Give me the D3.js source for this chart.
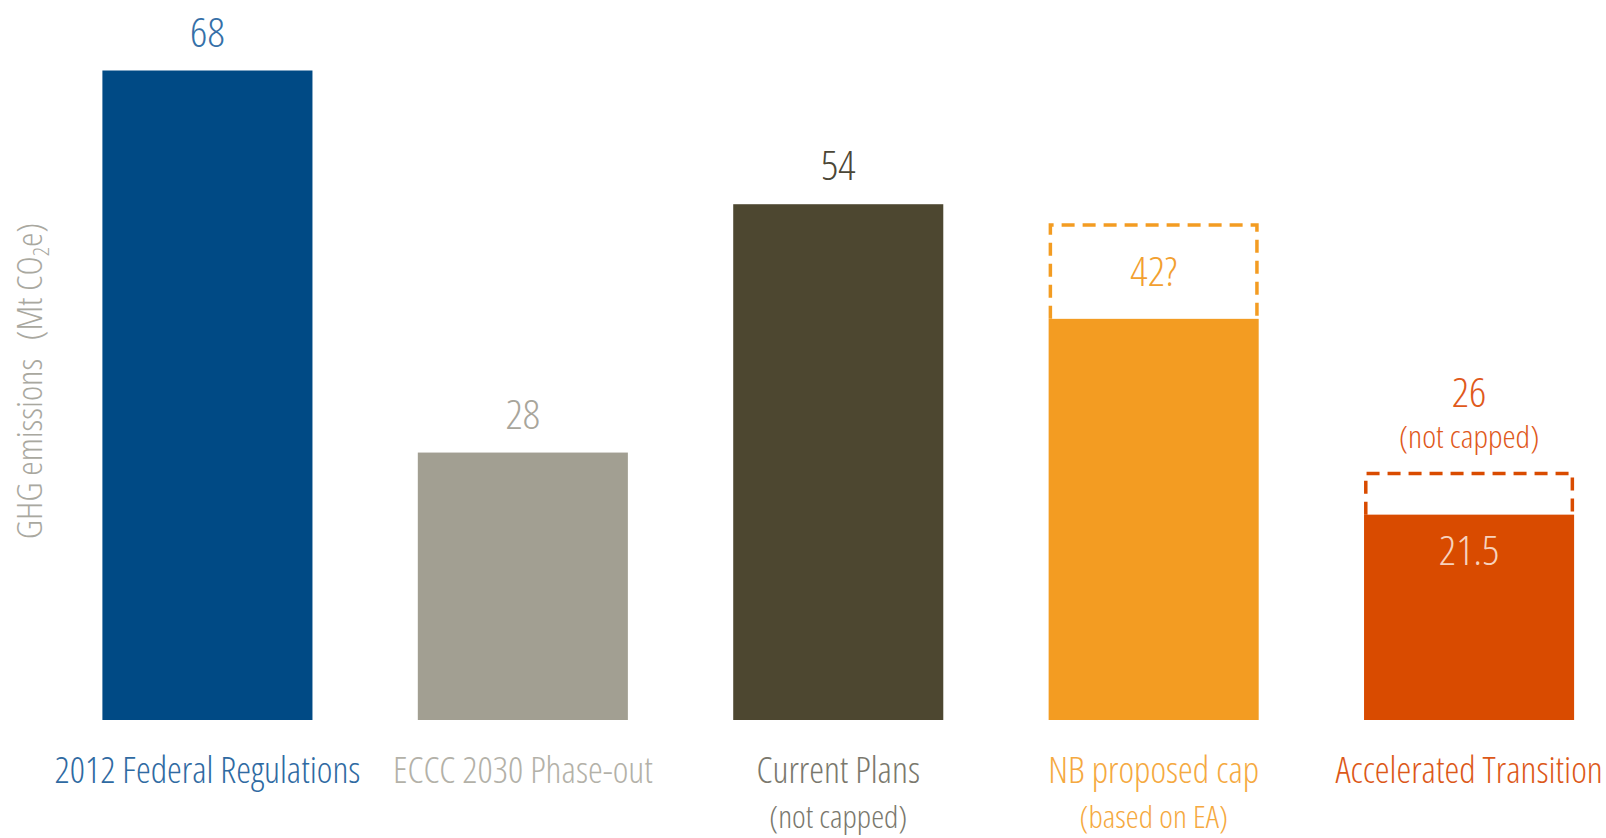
<!DOCTYPE html>
<html>
<head>
<meta charset="utf-8">
<script src="https://cdn.jsdelivr.net/npm/d3@7/dist/d3.min.js"></script>
<style>
  html, body { margin: 0; padding: 0; background: #ffffff; }
  svg { display: block; }
  text { font-family: "Open Sans", "Noto Sans", sans-serif; font-weight: 300; font-stretch: condensed; }
</style>
</head>
<body>
<svg id="chart" width="1606" height="838"></svg>
<script>
// Projected 2030 GHG emissions by scenario (Mt CO2e)
const categories = [
  "2012 Federal Regulations",
  "ECCC 2030 Phase-out",
  "Current Plans",
  "NB proposed cap",
  "Accelerated Transition"
];
const subLabels = ["", "", "(not capped)", "(based on EA)", ""];
const values = [68, 28, 54, 42, 21.5];
// upper end of an uncertain range drawn as a dashed outline
const upperValues = [null, null, null, 52, 26];
const valueLabels = ["68", "28", "54", "42?", "21.5"];
const upperLabels = [null, null, null, null, "26"];
const upperNotes = [null, null, null, null, "(not capped)"];

const barColors   = ["#004a85", "#a29f92", "#4d4730", "#f39c22", "#d94b00"];
const valueColors = ["#3570a8", "#a8a59b", "#4b4636", "#f2a030", "#f7d2bd"];
const catColors   = ["#2f6aa2", "#b3b1a8", "#7a786d", "#f5a940", "#dc5818"];
const upperColors = ["#3570a8", "#a8a59b", "#4b4636", "#f2a030", "#e0591b"];

const svg = d3.select("#chart");

const x = d3.scaleBand()
  .domain(categories)
  .range([102.4, 1574.1])
  .paddingInner(0.334)
  .paddingOuter(0);

const y = d3.scaleLinear()
  .domain([0, 68])
  .range([720, 70.5]);

// Horizontal scale so the sans face reads as a condensed cut of the right width
const probe = svg.append("text")
  .attr("font-size", 36)
  .text("2012 Federal Regulations");
const probeLen = probe.node().getComputedTextLength();
probe.remove();
const sx = Math.max(0.6, Math.min(1.1, 306 / probeLen));

function label(g, cx, cy, txt, size, color) {
  return g.append("text")
    .attr("transform", `translate(${cx},${cy}) scale(${sx},1)`)
    .attr("text-anchor", "middle")
    .attr("font-size", size)
    .attr("fill", color)
    .text(txt);
}

const g = svg.append("g");

// solid bars
g.selectAll("rect.bar")
  .data(values)
  .join("rect")
  .attr("class", "bar")
  .attr("x", (d, i) => x(categories[i]))
  .attr("width", x.bandwidth())
  .attr("y", d => y(d))
  .attr("height", d => y(0) - y(d))
  .attr("fill", (d, i) => barColors[i]);

// dashed outline for uncertain upper ranges (open at the bottom)
upperValues.forEach((u, i) => {
  if (u == null) return;
  const sw = 3.5;
  const x0 = x(categories[i]) + sw / 2;
  const x1 = x(categories[i]) + x.bandwidth() - sw / 2;
  const yTop = y(u) + sw / 2;
  const yBot = y(values[i]);
  g.append("path")
    .attr("d", `M${x0},${yBot} L${x0},${yTop} L${x1},${yTop} L${x1},${yBot}`)
    .attr("fill", "none")
    .attr("stroke", barColors[i])
    .attr("stroke-width", sw)
    .attr("stroke-dasharray", "13,8");
});

// value labels
values.forEach((v, i) => {
  const cx = x(categories[i]) + x.bandwidth() / 2;
  const u = upperValues[i];
  if (u == null) {
    label(g, cx, y(v) - 24, valueLabels[i], 41, valueColors[i]);
  } else if (upperLabels[i] == null) {
    // label sits in the middle of the dashed range
    label(g, cx, (y(u) + y(v)) / 2 + 15, valueLabels[i], 41, valueColors[i]);
  } else {
    label(g, cx, y(v) + 50, valueLabels[i], 41, valueColors[i]);
    label(g, cx, y(u) - 65, upperLabels[i], 41, upperColors[i]);
    label(g, cx, y(u) - 24, upperNotes[i], 32, upperColors[i]);
  }
});

// category labels
categories.forEach((c, i) => {
  const cx = x(c) + x.bandwidth() / 2;
  label(g, cx, 783, c, 36, catColors[i]);
  if (subLabels[i]) label(g, cx, 828, subLabels[i], 31.5, catColors[i]);
});

// y-axis title
const yt = svg.append("text")
  .attr("transform", `translate(42,381) rotate(-90) scale(${sx},1)`)
  .attr("text-anchor", "middle")
  .attr("font-size", 35)
  .attr("fill", "#a9a89f");
yt.append("tspan").text("GHG emissions\u2002(Mt CO");
yt.append("tspan").attr("font-size", 22).attr("dy", 7).text("2");
yt.append("tspan").attr("dy", -7).text("e)");
</script>
</body>
</html>
